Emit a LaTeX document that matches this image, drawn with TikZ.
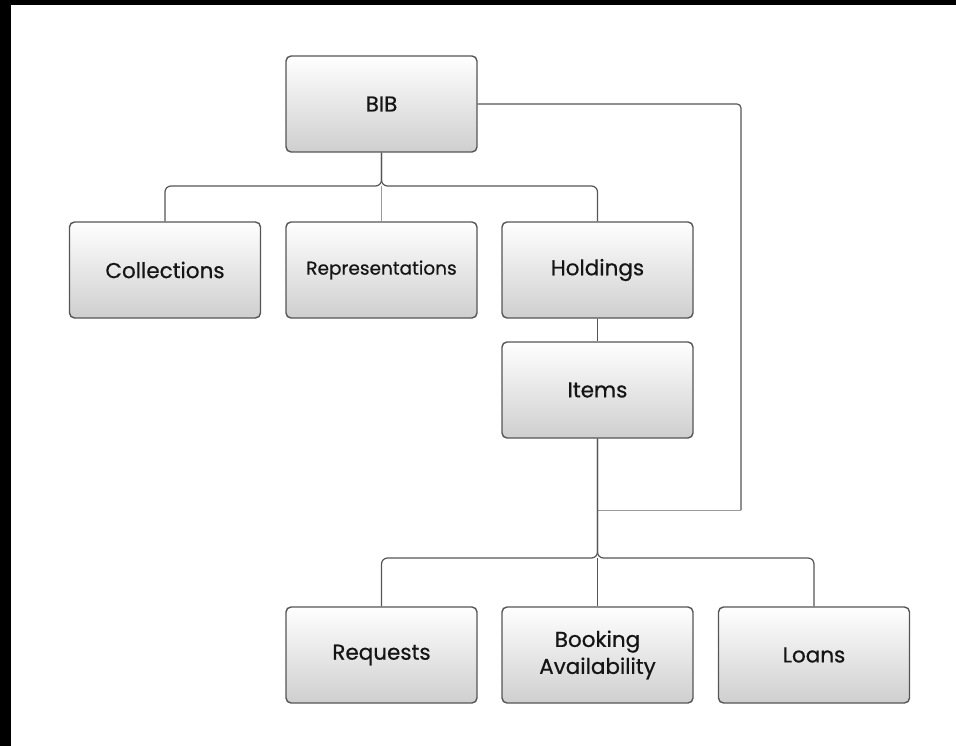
\documentclass[tikz,border=0pt]{standalone}
\usepackage{fontspec}
\setmainfont{Poppins}[FakeBold=0.6]
\usetikzlibrary{calc}
\definecolor{edge}{HTML}{555555}
\definecolor{lightedge}{HTML}{9A9A9A}
\definecolor{txt}{HTML}{151515}
\tikzset{
  box/.style={draw=edge, line width=1.4pt, rounded corners=5pt, top color=white, bottom color=black!19,
    minimum width=191pt, minimum height=96pt, inner sep=0pt, text=txt, font=\fontsize{21.5}{27}\selectfont, align=center},
  conn/.style={draw=edge, line width=1.2pt},
  lightconn/.style={draw=lightedge, line width=0.8pt},
}
\begin{document}
\begin{tikzpicture}[x=1pt,y=-1pt]
\useasboundingbox (0,0) rectangle (956,746);
\fill[black] (0,0) rectangle (956,5);
\fill[black] (0,0) rectangle (11,746);
\node[box] (bib) at (381.5,104) {BIB};
\node[box] (coll) at (165,270) {Collections};
\node[box, font=\fontsize{18.5}{22}\selectfont] (rep) at (381.5,270) {Representations};
\node[box] (hold) at (597.5,270) {Holdings};
\node[box] (items) at (597.5,390) {Items};
\node[box] (req) at (381.5,655) {Requests};
\node[box] (book) at (597.5,655) {Booking\\Availability};
\node[box] (loans) at (814,655) {Loans};
\coordinate (j1) at (381.5,186);
\coordinate (j2) at (597.5,558);
\coordinate (c2) at (741,510);
\coordinate (c3) at (597.5,510);
\draw[lightconn] (j1) -- (rep.north);
\draw[conn, rounded corners=6pt] (bib.south) -- (j1) -| (coll.north);
\draw[conn, rounded corners=6pt] (bib.south) -- (j1) -| (hold.north);
\draw[conn] (hold.south) -- (items.north);
\draw[conn, rounded corners=4pt] (bib.east) -| (c2);
\draw[lightconn] (c2) -- (c3);
\draw[conn] (j2) -- (book.north);
\draw[conn, rounded corners=6pt] (items.south) -- (j2) -| (req.north);
\draw[conn, rounded corners=6pt] (items.south) -- (j2) -| (loans.north);
\end{tikzpicture}
\end{document}
